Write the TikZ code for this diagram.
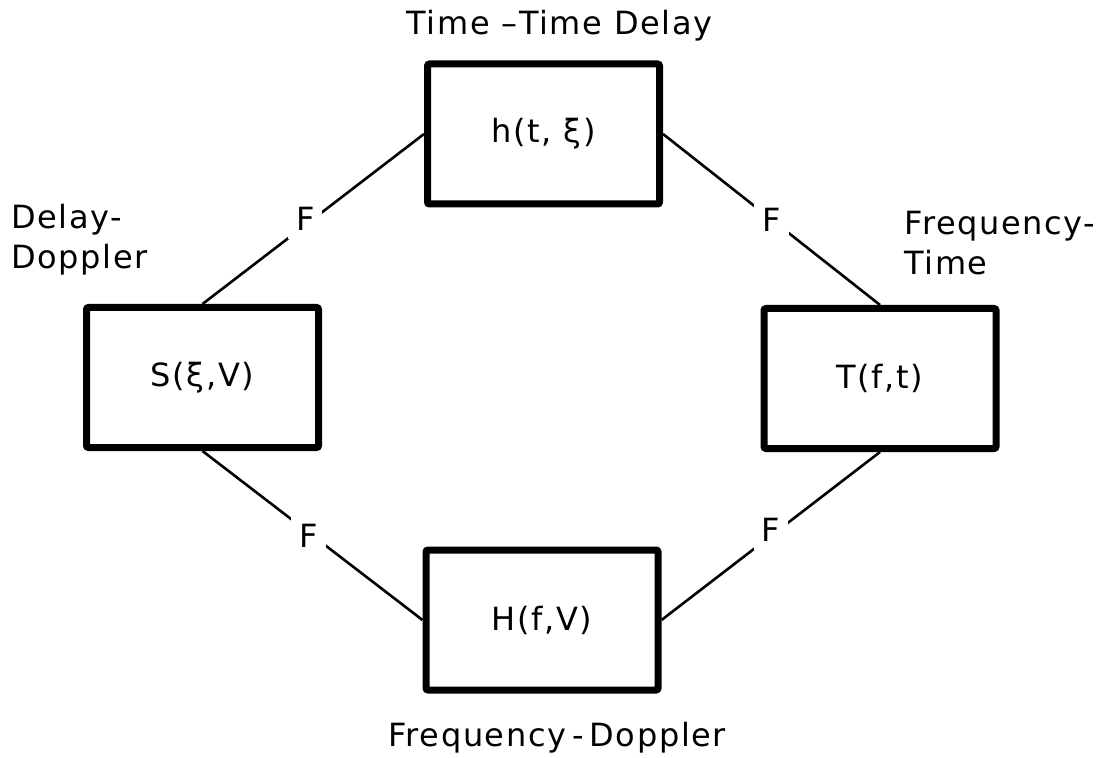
\documentclass[tikz,border=0pt]{standalone}
\usepackage{fontspec}
\setmainfont[LetterSpace=5]{DejaVu Sans}
\usetikzlibrary{positioning}
\tikzset{
  reprbox/.style={draw, line width=3.5pt, rounded corners=1pt, minimum width=116pt, minimum height=70pt, inner sep=0pt},
  fourierline/.style={line width=1.3pt},
  fourierlbl/.style={fill=white, inner sep=4pt},
  reprname/.style={align=left, inner sep=0pt}
}

\begin{document}
\begin{tikzpicture}[x=0.5pt, y=-0.5pt, font=\fontsize{16}{20}\selectfont]
    \useasboundingbox (0,0) rectangle (1106,758);
    % the four representations
    \node[reprbox] (timedelay) at (543.5,134) {h(t, ξ)};
    \node[reprbox] (delaydoppler) at (202.5,377.5) {S(ξ,V)};
    \node[reprbox] (freqtime) at (880,378.5) {T(f,t)};
    \node[reprbox] (freqdoppler) at (542,620) {H(f,V)};
    % their names
    \node[reprname, above=9.5pt of timedelay, xshift=8pt] (timedelaylbl) {Time –Time Delay};
    \node[reprname, above=14pt of delaydoppler.north west, anchor=south west, xshift=-36pt] (delaydopplerlbl) {Delay-\\Doppler};
    \node[reprname, above=15pt of freqtime.north, anchor=south west, xshift=12pt] (freqtimelbl) {Frequency-\\Time};
    \node[reprname, below=14pt of freqdoppler, xshift=7.5pt] (freqdopplerlbl) {Frequency\hspace{3pt}-\hspace{3pt}Doppler};
    % Fourier pairs
    \draw[fourierline] (timedelay.west) -- node[fourierlbl, xshift=-4pt]{F} (delaydoppler.north);
    \draw[fourierline] (timedelay.east) -- node[fourierlbl]{F} (freqtime.north);
    \draw[fourierline] (delaydoppler.south) -- node[fourierlbl, xshift=-2pt]{F} (freqdoppler.west);
    \draw[fourierline] (freqtime.south) -- node[fourierlbl, yshift=3pt]{F} (freqdoppler.east);
\end{tikzpicture}
\end{document}
